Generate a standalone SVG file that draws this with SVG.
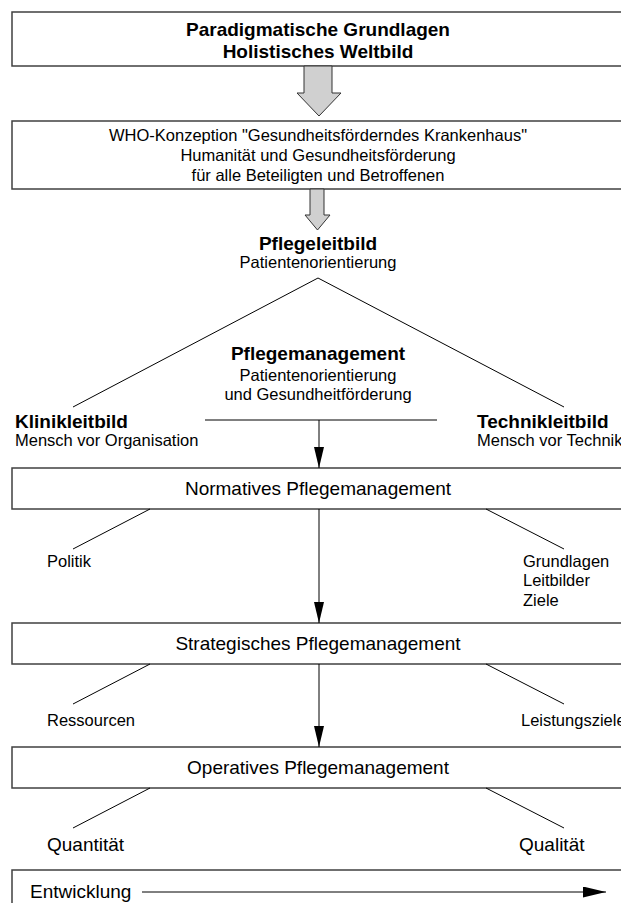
<svg xmlns="http://www.w3.org/2000/svg" width="621" height="903" viewBox="0 0 621 903">
<style>
.box{fill:#fff;stroke:#404040;stroke-width:1.5}
.ln{stroke:#000;stroke-width:1;fill:none}
.big{font-family:"Liberation Sans",Arial,sans-serif;font-size:19px;fill:#000}
.bold{font-family:"Liberation Sans",Arial,sans-serif;font-size:19px;font-weight:bold;fill:#000}
.sm{font-family:"Liberation Sans",Arial,sans-serif;font-size:16.5px;fill:#000}
.c{text-anchor:middle}
.garrow{fill:#d0d0d0;stroke:#333;stroke-width:1}
</style>
<defs>
<marker id="ah" markerWidth="21" markerHeight="10" refX="21" refY="5" orient="auto" markerUnits="userSpaceOnUse" viewBox="0 0 21 10">
<path d="M0,0 L21,5 L0,10 Z" fill="#000"/>
</marker>
<marker id="ah2" markerWidth="23" markerHeight="11" refX="23" refY="5.5" orient="auto" markerUnits="userSpaceOnUse" viewBox="0 0 23 11">
<path d="M0,0 L23,5.5 L0,11 Z" fill="#000"/>
</marker>
</defs>
<rect width="621" height="903" fill="#fff"/>
<g id="paradigm">
<rect class="box" x="12" y="12" width="620" height="54"/>
<text class="bold c" x="318" y="36">Paradigmatische Grundlagen</text>
<text class="bold c" x="318" y="58">Holistisches Weltbild</text>
</g>
<g id="who">
<rect class="box" x="12" y="121" width="620" height="68"/>
<text class="sm c" x="318" y="141">WHO-Konzeption "Gesundheitsförderndes Krankenhaus"</text>
<text class="sm c" x="318" y="161">Humanität und Gesundheitsförderung</text>
<text class="sm c" x="318" y="181">für alle Beteiligten und Betroffenen</text>
</g>
<g id="pflegeleitbild">
<text class="bold c" x="318" y="250">Pflegeleitbild</text>
<text class="sm c" x="318" y="268">Patientenorientierung</text>
</g>
<g id="pflegemanagement">
<text class="bold c" x="318" y="360">Pflegemanagement</text>
<text class="sm c" x="318" y="381">Patientenorientierung</text>
<text class="sm c" x="318" y="400">und Gesundheitförderung</text>
</g>
<g id="klinikleitbild">
<text class="bold" x="15" y="428">Klinikleitbild</text>
<text class="sm" x="15" y="446">Mensch vor Organisation</text>
</g>
<g id="technikleitbild">
<text class="bold" x="477" y="428">Technikleitbild</text>
<text class="sm" x="477" y="446">Mensch vor Technik</text>
</g>
<g id="normativ">
<rect class="box" x="12" y="468" width="620" height="41"/>
<text class="big c" x="318" y="495">Normatives Pflegemanagement</text>
</g>
<g id="politik"><text class="sm" x="47" y="567">Politik</text></g>
<g id="grundlagen">
<text class="sm" x="523" y="567">Grundlagen</text>
<text class="sm" x="523" y="586">Leitbilder</text>
<text class="sm" x="523" y="606">Ziele</text>
</g>
<g id="strategisch">
<rect class="box" x="12" y="623" width="620" height="41"/>
<text class="big c" x="318" y="650">Strategisches Pflegemanagement</text>
</g>
<g id="ressourcen"><text class="sm" x="47" y="726">Ressourcen</text></g>
<g id="leistungsziele"><text class="sm" x="521" y="726">Leistungsziele</text></g>
<g id="operativ">
<rect class="box" x="12" y="747" width="620" height="41"/>
<text class="big c" x="318" y="774">Operatives Pflegemanagement</text>
</g>
<g id="quantitaet"><text class="big" x="47" y="851">Quantität</text></g>
<g id="qualitaet"><text class="big" x="519" y="851">Qualität</text></g>
<g id="entwicklung">
<rect class="box" x="12" y="870" width="620" height="60"/>
<text class="big" x="30" y="898">Entwicklung</text>
</g>
<g id="connectors">
<polygon class="garrow" points="304,66 332,66 332,93 341,93 319,116 297,93 304,93"/>
<polygon class="garrow" points="310,189 324,189 324,215 330,215 317.5,230 305,215 310,215"/>
<polyline class="ln" points="73,407 318,278 564,407"/>
<line class="ln" x1="205" y1="420" x2="437" y2="420"/>
<line class="ln" x1="319" y1="420" x2="319" y2="468" marker-end="url(#ah)"/>
<line class="ln" x1="319" y1="509" x2="319" y2="623" marker-end="url(#ah)"/>
<line class="ln" x1="319" y1="664" x2="319" y2="747" marker-end="url(#ah)"/>
<line class="ln" x1="150" y1="509" x2="73" y2="549"/>
<line class="ln" x1="486" y1="509" x2="564" y2="549"/>
<line class="ln" x1="150" y1="664" x2="73" y2="704"/>
<line class="ln" x1="486" y1="664" x2="564" y2="704"/>
<line class="ln" x1="150" y1="788" x2="73" y2="828"/>
<line class="ln" x1="486" y1="788" x2="564" y2="828"/>
<line class="ln" x1="142" y1="892" x2="606" y2="892" marker-end="url(#ah2)"/>
</g>
</svg>
